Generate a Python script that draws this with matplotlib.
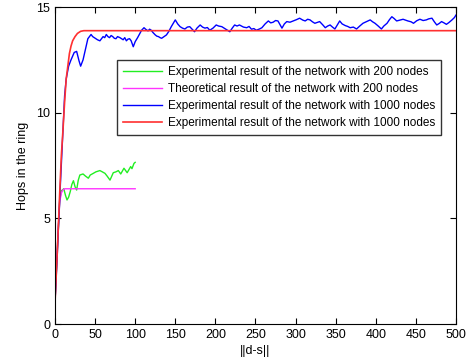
import matplotlib
matplotlib.use('Agg')
import matplotlib.pyplot as plt

plt.rcParams['font.family'] = ['Liberation Sans', 'DejaVu Sans']

# experimental, 200 nodes
green_x = [0, 3, 6, 8, 11, 13, 15, 17, 19, 21, 23, 25, 27, 29, 31, 35, 38, 41.6, 44, 47.8,
           51, 56, 59, 62.3, 65, 68.6, 72.7, 76, 79, 82, 86, 90, 94.4, 96, 98.5, 100]
green_y = [1.0, 3.6, 5.9, 6.3, 6.4, 6.1, 5.87, 6.0, 6.26, 6.6, 6.78, 6.5, 6.34, 6.8, 7.05, 7.1, 7.0, 6.9, 7.05, 7.13,
           7.2, 7.26, 7.2, 7.13, 7.0, 6.81, 7.16, 7.2, 7.26, 7.1, 7.37, 7.16, 7.45, 7.35, 7.6, 7.65]

# theoretical, 200 nodes
mag_x = [0, 2, 4, 6, 8, 10, 12, 100]
mag_y = [1.0, 2.8, 4.5, 5.8, 6.2, 6.35, 6.4, 6.4]

# experimental, 1000 nodes
blue_x = [0, 3, 6, 8, 10, 12, 14, 17, 20, 24, 27, 30, 32, 35, 38, 41, 45, 47, 49, 51, 53, 56,
          58, 60, 62, 64, 66, 68, 70, 72, 74, 76, 78, 81, 83, 85, 87, 89, 91, 93, 95, 97.6,
          100, 103, 106, 108, 111, 113, 116, 118, 120, 122, 125, 127, 129, 131, 133, 136, 139, 142, 145,
          147, 150, 153, 156, 159, 162, 165, 168, 171, 174, 177, 181, 184, 187, 190, 193, 197, 201, 204, 208,
          213, 218, 221, 224, 227, 230, 235, 239, 242, 245, 248, 251, 255, 258, 262,
          266, 269, 272, 275, 278, 283, 286, 289, 293, 297, 301, 305, 309, 312, 315, 318, 321, 324, 327, 330,
          334, 337, 340, 343, 346, 349, 352, 355, 358, 362, 365, 368, 372, 376, 380, 384, 388, 393,
          396, 399, 403, 407, 410, 414, 417, 420, 423, 426, 430, 434, 437, 440, 444, 447, 451, 455,
          459, 463, 466, 470, 473, 476, 479, 482, 485, 488, 491, 495, 498, 500]
blue_y = [1.0, 3.4, 6.0, 7.6, 9.2, 10.8, 11.6, 12.2, 12.5, 12.85, 12.9, 12.45, 12.2, 12.5, 13.0, 13.5, 13.7, 13.6, 13.55, 13.5, 13.45, 13.4,
          13.5, 13.6, 13.55, 13.7, 13.6, 13.55, 13.65, 13.6, 13.52, 13.5, 13.6, 13.55, 13.5, 13.45, 13.55, 13.4, 13.48, 13.5, 13.4, 13.12,
          13.36, 13.55, 13.76, 13.9, 14.02, 13.95, 13.87, 13.95, 13.9, 13.8, 13.68, 13.62, 13.6, 13.55, 13.52, 13.6, 13.68, 13.85, 14.07,
          14.2, 14.39, 14.2, 14.07, 14.0, 13.96, 14.05, 14.07, 13.95, 13.83, 14.0, 14.15, 14.05, 14.0, 14.03, 13.9, 14.0, 14.15, 14.1, 14.07,
          13.95, 13.83, 14.0, 14.15, 14.1, 14.15, 14.05, 14.02, 14.08, 13.95, 13.98, 13.9, 13.96, 14.02, 14.2,
          14.34, 14.25, 14.28, 14.36, 14.34, 14.0, 14.2, 14.31, 14.28, 14.34, 14.4, 14.47, 14.38, 14.34, 14.42, 14.39, 14.3, 14.23, 14.27, 14.31,
          14.15, 14.02, 14.1, 14.15, 14.05, 13.96, 14.15, 14.34, 14.2, 14.12, 14.08, 14.02, 14.05, 13.96, 14.1, 14.23, 14.3, 14.39,
          14.3, 14.23, 14.1, 13.96, 14.1, 14.23, 14.4, 14.54, 14.45, 14.34, 14.38, 14.42, 14.38, 14.34, 14.3, 14.23, 14.35, 14.42,
          14.36, 14.39, 14.44, 14.47, 14.3, 14.15, 14.22, 14.31, 14.25, 14.18, 14.26, 14.39, 14.5, 14.62]

# theoretical, 1000 nodes (labelled "Experimental" in the original legend)
red_x = [0, 3, 6, 8, 10, 12, 14, 16, 18, 20, 22, 25, 28, 32, 36, 500]
red_y = [1.0, 3.5, 6.3, 8.0, 9.2, 10.5, 11.6, 12.2, 12.8, 13.15, 13.4, 13.6, 13.75, 13.85, 13.88, 13.88]

labels = ['Experimental result of the network with 200 nodes',
          'Theoretical result of the network with 200 nodes',
          'Experimental result of the network with 1000 nodes',
          'Experimental result of the network with 1000 nodes']

fig = plt.figure(figsize=(4.76, 3.63), dpi=100)
ax = fig.add_axes([0.1155, 0.1074, 0.8425, 0.8733])

ax.plot(green_x, green_y, color='#22ee22', lw=1.0)
ax.plot(mag_x, mag_y, color='#ff33ff', lw=1.0)
ax.plot(blue_x, blue_y, color='#0000ff', lw=1.0)
ax.plot(red_x, red_y, color='#ff3030', lw=1.2)

ax.set_xlim(0, 500)
ax.set_ylim(0, 15)
ax.set_xticks(range(0, 501, 50))
ax.set_yticks([0, 5, 10, 15])
ax.tick_params(direction='in', top=True, right=True, labelsize=9, length=4)
ax.set_xlabel('||d-s||', fontsize=9, labelpad=3)
ax.set_ylabel('Hops in the ring', fontsize=9, labelpad=5)

leg = ax.legend(labels, loc='upper left', bbox_to_anchor=(0.155, 0.833), fontsize=8.5,
                frameon=True, fancybox=False, edgecolor='black', borderpad=0.5,
                handlelength=3.3, handletextpad=0.5, labelspacing=0.42, borderaxespad=0)
leg.get_frame().set_linewidth(1.0)

fig.savefig('out.png', dpi=100)
